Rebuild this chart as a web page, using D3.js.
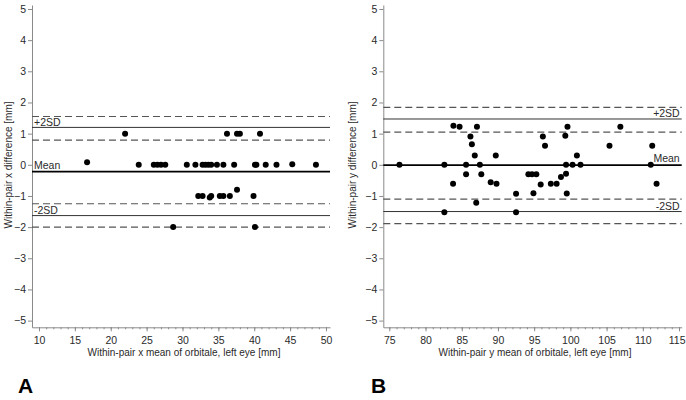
<!DOCTYPE html>
<html><head><meta charset="utf-8">
<script src="https://cdn.jsdelivr.net/npm/d3@7"></script>
<style>
body{margin:0;background:#fff;}
svg{display:block;font-family:"Liberation Sans",Arial,sans-serif;}
</style></head>
<body><svg id="c" width="686" height="400"></svg>
<script>
// ---------- data ----------
const leftX = [16.7,22.0,23.9,26.0,26.5,27.0,27.6,28.7,30.6,31.8,32.2,32.8,32.8,33.2,33.6,33.8,34.0,34.0,34.8,35.2,35.7,35.7,36.2,36.6,37.2,37.6,37.6,38.0,39.9,40.1,40.1,40.3,40.8,41.6,43.1,45.3,48.6];
const leftY = [0.08,1.0,0,0,0,0,0,-2,0,0,-1,-1,0,0,0,-1.05,0,-1,0,-1,0,-1,1,-1,0,1,-0.8,1,-1,0,-2,0,1,0,0,0.02,0];
const leftMean = -0.22, leftUpper = 1.20, leftLower = -1.63;
const leftCI = [1.55, 0.79, -1.25, -2.0];

const rightX = [76.4,82.6,82.6,83.8,83.85,84.7,85.6,85.6,86.2,86.4,86.8,87.0,87.1,87.5,87.7,89.0,89.7,89.8,92.5,92.5,94.2,94.7,94.9,95.3,95.9,96.2,96.5,97.3,98.1,98.7,99.3,99.4,99.4,99.6,99.5,100.3,100.9,101.4,105.4,106.9,111.1,111.3,111.9];
const rightY = [0,0,-1.52,-0.61,1.25,1.22,0,-0.30,0.91,0.66,0.30,-1.22,1.22,0,-0.30,-0.56,0.30,-0.61,-0.93,-1.52,-0.30,-0.30,-0.91,-0.30,-0.63,0.91,0.61,-0.61,-0.61,-0.39,0.93,0,-0.29,1.22,-0.92,0,0.30,0,0.61,1.22,0,0.61,-0.61];
const rightMean = -0.01, rightUpper = 1.47, rightLower = -1.50;
const rightCI = [1.84, 1.05, -1.10, -1.89];

const yTicks = [5,4,3,2,1,0,-1,-2,-3,-4,-5];
const leftXTicks = [10,15,20,25,30,35,40,45,50];
const rightXTicks = [75,80,85,90,95,100,105,110,115];
const leftXMinor = d3.range(10, 51, 1);
const rightXMinor = d3.range(75, 116, 1);

const svg = d3.select("#c");
const axisCol = "#8a8a8a", textCol = "#2a2a2a";

function panel(opt){
  const g = svg.append("g");
  const x = d3.scaleLinear().domain(opt.xDom).range(opt.xRange);
  const y = d3.scaleLinear().domain([-5.215, 5.128]).range([327.3, 5]);
  const x0 = opt.xRange[0], x1 = opt.xRange[1];

  // y axis
  const ya = g.append("g").attr("transform", `translate(${x0},0)`)
    .call(d3.axisLeft(y).tickValues(yTicks).tickSize(4).tickSizeOuter(0).tickPadding(2).tickFormat(d3.format("d")));
  // x axis
  const xa = g.append("g").attr("transform", `translate(0,${y.range()[0]})`)
    .call(d3.axisBottom(x).tickValues(opt.ticks).tickSize(4).tickSizeOuter(0).tickPadding(5).tickFormat(d3.format("d")));
  const xm = g.append("g").attr("transform", `translate(0,${y.range()[0]})`)
    .call(d3.axisBottom(x).tickValues(opt.minor).tickSize(2).tickSizeOuter(0).tickFormat(""));
  xm.select(".domain").remove();
  [ya, xa, xm].forEach(a => {
    a.selectAll(".domain").attr("stroke", axisCol);
    a.selectAll(".tick line").attr("stroke", axisCol);
    a.selectAll("text").attr("fill", textCol).style("font-size", "10.5px").style("font-family", "'Liberation Sans',Arial,sans-serif");
  });
  // keep the last x tick label inside the page
  xa.selectAll(".tick text").filter(d => d === opt.ticks[opt.ticks.length - 1] && opt.clampLast)
    .attr("text-anchor", "end").attr("x", 6);

  // reference lines
  opt.ci.forEach(v => g.append("line").attr("x1", x0).attr("x2", x1)
    .attr("y1", y(v)).attr("y2", y(v)).attr("stroke", "#555").attr("stroke-width", 1.2).attr("stroke-dasharray", "7,4"));
  [opt.upper, opt.lower].forEach(v => g.append("line").attr("x1", x0).attr("x2", x1)
    .attr("y1", y(v)).attr("y2", y(v)).attr("stroke", "#333").attr("stroke-width", 1));
  g.append("line").attr("x1", x0).attr("x2", x1).attr("y1", y(opt.mean)).attr("y2", y(opt.mean))
    .attr("stroke", "#000").attr("stroke-width", 1.6);

  const lx = opt.labelRight ? x1 - 2 : x0 + 2;
  const anchor = opt.labelRight ? "end" : "start";
  [["+2SD", opt.upper, 1.5], ["Mean", opt.mean, 3], ["-2SD", opt.lower, 1.5]].forEach(([t, v, off]) =>
    g.append("text").attr("x", lx).attr("y", y(v) - off).attr("text-anchor", anchor)
      .attr("fill", textCol).style("font-size", "10.5px").text(t));

  // points
  g.selectAll("circle.pt").data(opt.xs.map((d, i) => [d, opt.ys[i]])).join("circle")
    .attr("class", "pt").attr("cx", d => x(d[0])).attr("cy", d => y(d[1])).attr("r", 3).attr("fill", "#000");

  // titles
  g.append("text").attr("transform", `translate(${opt.yTitleX},165) rotate(-90)`)
    .attr("text-anchor", "middle").attr("dy", "0.35em").attr("fill", textCol).style("font-size", "10px").text(opt.yTitle);
  g.append("text").attr("x", opt.xTitleX).attr("y", 356).attr("text-anchor", "middle")
    .attr("fill", textCol).style("font-size", "10px").text(opt.xTitle);
  g.append("text").attr("x", opt.letterX).attr("y", 393).attr("fill", "#000")
    .style("font-size", "21px").style("font-weight", "bold").text(opt.letter);
}

panel({xDom:[9.024, 50.56], xRange:[32, 330], ticks:leftXTicks, minor:leftXMinor,
  xs:leftX, ys:leftY, mean:leftMean, upper:leftUpper, lower:leftLower, ci:leftCI, labelRight:false, clampLast:false,
  yTitle:"Within-pair x difference [mm]", yTitleX:8, xTitle:"Within-pair x mean of orbitale, left eye [mm]", xTitleX:184,
  letter:"A", letterX:18});
panel({xDom:[74.17, 115.37], xRange:[383.3, 681.7], ticks:rightXTicks, minor:rightXMinor,
  xs:rightX, ys:rightY, mean:rightMean, upper:rightUpper, lower:rightLower, ci:rightCI, labelRight:true, clampLast:true,
  yTitle:"Within-pair y difference [mm]", yTitleX:352, xTitle:"Within-pair y mean of orbitale, left eye [mm]", xTitleX:535,
  letter:"B", letterX:371});
</script></body></html>
